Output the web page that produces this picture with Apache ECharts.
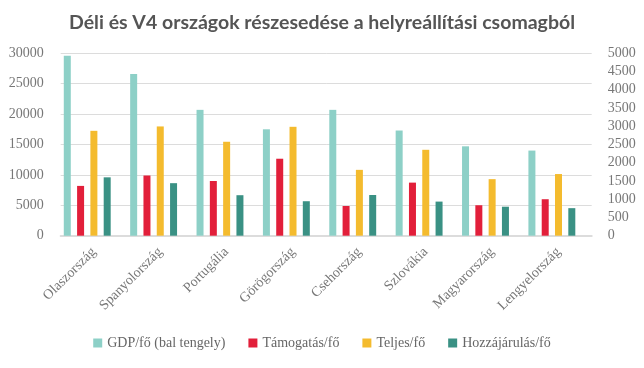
<!DOCTYPE html>
<html>
<head>
<meta charset="utf-8">
<script src="https://cdn.jsdelivr.net/npm/echarts@6/dist/echarts.min.js"></script>
<style>
html,body{margin:0;padding:0;background:#fff;}
#c{width:644px;height:368px;}
</style>
</head>
<body>
<div id="c"></div>
<script>
const categories = ['Olaszország','Spanyolország','Portugália','Görögország','Csehország','Szlovákia','Magyarország','Lengyelország'];
const gdp = [29600, 26600, 20700, 17500, 20700, 17300, 14700, 14000];
const tamogatas = [1365, 1650, 1500, 2110, 815, 1455, 835, 1000];
const teljes = [2875, 2995, 2575, 2985, 1805, 2355, 1550, 1690];
const hozzajarulas = [1600, 1440, 1110, 945, 1115, 935, 795, 755];
const seriesNames = ['GDP/fő (bal tengely)','Támogatás/fő','Teljes/fő','Hozzájárulás/fő'];
const leftTicks = {min:0, max:30000, interval:5000};
const rightTicks = {min:0, max:5000, interval:500};

const colors = ['#8dd0c7','#e21f3a','#f4bb2e','#3a9184'];
const serif = 'Liberation Serif';
const chart = echarts.init(document.getElementById('c'), null, {renderer:'canvas'});
const barW = 7;
function bar(name, data, yi, color){
  return {name, type:'bar', data, yAxisIndex:yi, barWidth:barW, barGap:'90%',
          itemStyle:{color}, emphasis:{disabled:true}};
}
const plain = v => String(v);
chart.setOption({
  animation:false,
  title:{text:'Déli és V4 országok részesedése a helyreállítási csomagból', left:'center', top:8,
    textStyle:{fontFamily:'Lato', fontWeight:'bold', fontSize:19.5, color:'#555'}},
  grid:{left:60.7, right:52.3, top:53.3, bottom:132.3, containLabel:false},
  legend:{data:seriesNames, bottom:13, left:'center', itemWidth:9, itemHeight:9, itemGap:23,
    icon:'rect', textStyle:{fontFamily:serif, fontSize:14, color:'#666'}},
  xAxis:{type:'category', data:categories,
    axisLine:{lineStyle:{color:'#dcdcdc', width:2}}, axisTick:{show:false},
    axisLabel:{rotate:45, fontFamily:serif, fontSize:14, color:'#777', margin:14, interval:0}},
  yAxis:[
    {type:'value', min:leftTicks.min, max:leftTicks.max, interval:leftTicks.interval,
     axisLine:{show:false}, axisTick:{show:false},
     axisLabel:{fontFamily:serif, fontSize:14, color:'#777', margin:17, formatter:plain},
     splitLine:{lineStyle:{color:'#dcdcdc', width:1}}},
    {type:'value', min:rightTicks.min, max:rightTicks.max, interval:rightTicks.interval,
     axisLine:{show:false}, axisTick:{show:false},
     axisLabel:{fontFamily:serif, fontSize:14, color:'#777', margin:16, formatter:plain},
     splitLine:{show:false}}
  ],
  series:[
    bar(seriesNames[0], gdp, 0, colors[0]),
    bar(seriesNames[1], tamogatas, 1, colors[1]),
    bar(seriesNames[2], teljes, 1, colors[2]),
    bar(seriesNames[3], hozzajarulas, 1, colors[3]),
    {name:'', type:'bar', data:categories.map(()=>'-'), yAxisIndex:1, barWidth:barW, barGap:'90%', silent:true}
  ]
});
</script>
</body>
</html>
